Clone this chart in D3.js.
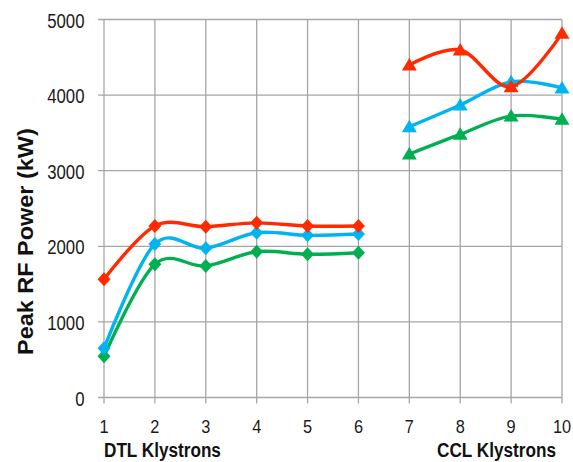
<!DOCTYPE html>
<html><head><meta charset="utf-8">
<script src="https://cdn.jsdelivr.net/npm/d3@7"></script>
<style>body{margin:0;background:#fff}svg{display:block}text{font-family:"Liberation Sans",Arial,sans-serif}</style>
</head><body>
<svg id="c" width="573" height="462"></svg>
<script>
const xTicks = [1,2,3,4,5,6,7,8,9,10];
const yTicks = [0,1000,2000,3000,4000,5000];
const dtlX = [1,2,3,4,5,6];
const cclX = [7,8,9,10];
const redDTL   = [1565,2270,2260,2310,2268,2268];
const blueDTL  = [650,2030,1975,2180,2145,2163];
const greenDTL = [545,1762,1740,1929,1895,1915];
const redCCL   = [4398,4597,4111,4817];
const blueCCL  = [3582,3869,4177,4095];
const greenCCL = [3221,3481,3724,3680];
const colors = {red:"#ff2a00", blue:"#00b4f0", green:"#00b050"};

const svg = d3.select("#c");
const x = d3.scaleLinear().domain([1,10]).range([104,562]);
const y = d3.scaleLinear().domain([0,5000]).range([397.5,19.5]);

const g = svg.append("g");
g.selectAll(".hg").data(yTicks).join("line")
  .attr("x1",98).attr("x2",x(10)).attr("y1",d=>y(d)).attr("y2",d=>y(d))
  .attr("stroke","#a6a6a6").attr("stroke-width",1.3);
g.selectAll(".vg").data(xTicks).join("line")
  .attr("x1",d=>x(d)).attr("x2",d=>x(d)).attr("y1",y(5000)).attr("y2",y(0)+6)
  .attr("stroke","#a6a6a6").attr("stroke-width",1.3);

const sx = 0.86;
svg.selectAll(".yl").data(yTicks).join("text")
  .attr("transform",d=>`translate(84.5,${y(d)+8}) scale(${sx},1)`).attr("text-anchor","end")
  .attr("font-size",19.5).attr("fill","#1a1a1a").text(d=>d);
svg.selectAll(".xl").data(xTicks).join("text")
  .attr("transform",d=>`translate(${x(d)},433) scale(${sx},1)`).attr("text-anchor","middle")
  .attr("font-size",19).attr("fill","#1a1a1a").text(d=>d);

function fitText(label, x0, y0, width, size, rotate){
  const t = svg.append("text").attr("font-size",size).attr("font-weight","bold").attr("fill","#111").text(label);
  const len = t.node().getComputedTextLength();
  const k = width/len;
  t.attr("transform", rotate ? `translate(${x0},${y0}) rotate(-90) scale(${k},1)` : `translate(${x0},${y0}) scale(${k},1)`);
  return t;
}
fitText("DTL Klystrons", 104, 456.5, 117, 20.5, false);
fitText("CCL Klystrons", 437, 456.5, 119, 20.5, false);
fitText("Peak RF Power (kW)", 33, 355, 227, 23, true);

const diamond = {draw(ctx){ctx.moveTo(0,-7);ctx.lineTo(6.5,0);ctx.lineTo(0,7);ctx.lineTo(-6.5,0);ctx.closePath();}};
const triangle = {draw(ctx){ctx.moveTo(0,-7);ctx.lineTo(7.5,5.5);ctx.lineTo(-7.5,5.5);ctx.closePath();}};

const line = d3.line().x(d=>x(d[0])).y(d=>y(d[1])).curve(d3.curveCatmullRom.alpha(0));
const series = [
  {xs:dtlX, v:greenDTL, c:colors.green, m:diamond},
  {xs:dtlX, v:blueDTL, c:colors.blue, m:diamond},
  {xs:dtlX, v:redDTL, c:colors.red, m:diamond},
  {xs:cclX, v:greenCCL, c:colors.green, m:triangle},
  {xs:cclX, v:blueCCL, c:colors.blue, m:triangle},
  {xs:cclX, v:redCCL, c:colors.red, m:triangle},
];
series.forEach(s=>{
  const pts = s.xs.map((xx,i)=>[xx,s.v[i]]);
  svg.append("path").attr("d",line(pts)).attr("fill","none").attr("stroke",s.c).attr("stroke-width",3.4);
  svg.selectAll(null).data(pts).join("path")
    .attr("d",d3.symbol().type(s.m))
    .attr("transform",d=>`translate(${x(d[0])},${y(d[1])})`)
    .attr("fill",s.c);
});
</script>
</body></html>
